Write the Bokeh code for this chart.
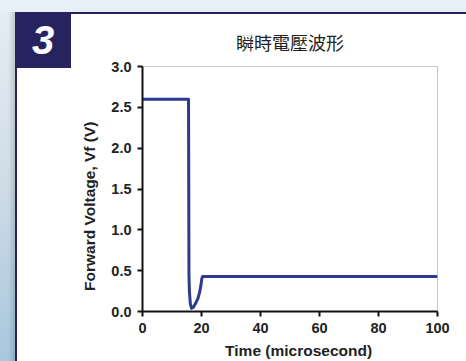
from bokeh.plotting import figure
from bokeh.models import Range1d, FixedTicker, CustomJSTickFormatter, Div
from bokeh.layouts import row, column
from bokeh.embed import file_html
from bokeh.resources import INLINE

# ---- data ----
time_us = [0, 15.6, 15.75, 15.9, 16.2, 16.6, 17.2, 18.0, 18.8, 19.4, 19.8, 20.1, 20.4, 30, 50, 70, 90, 100]
vf_volts = [2.6, 2.6, 0.45, 0.25, 0.10, 0.04, 0.05, 0.10, 0.16, 0.24, 0.32, 0.40, 0.43, 0.43, 0.43, 0.43, 0.43, 0.43]
x_ticks = [0, 20, 40, 60, 80, 100]
y_ticks = [0.0, 0.5, 1.0, 1.5, 2.0, 2.5, 3.0]
title_text = "瞬時電壓波形"
panel_number = "3"
x_label = "Time (microsecond)"
y_label = "Forward Voltage, Vf (V)"

NAVY = "#27235f"
LINE = "#2e3a8f"
SKY = "#e7f0f8"
NB = "\u00a0"

p = figure(width=395, height=347, output_backend="svg", toolbar_location=None,
           x_range=Range1d(0, 100), y_range=Range1d(0, 3.0),
           min_border_left=71, min_border_right=29, min_border_top=52, min_border_bottom=48)
p.grid.visible = False
p.outline_line_color = "#c8c8c8"
p.outline_line_width = 1
p.background_fill_color = "white"
p.border_fill_color = "white"

p.title.text = title_text
p.title.align = "center"
p.title.text_font = "Noto Sans CJK TC"
p.title.text_font_size = "18px"
p.title.text_font_style = "normal"
p.title.text_color = "#222222"
p.title.standoff = 24

for ax in (p.xaxis[0], p.yaxis[0]):
    ax.axis_line_width = 2
    ax.axis_line_color = "#111111"
    ax.major_tick_line_width = 2
    ax.major_tick_line_color = "#111111"
    ax.major_tick_out = 5
    ax.major_tick_in = 0
    ax.minor_tick_line_color = None
    ax.major_label_text_font = "Liberation Sans"
    ax.major_label_text_font_style = "bold"
    ax.major_label_text_font_size = "14.5px"
    ax.major_label_text_color = "#222222"
    ax.axis_label_text_font = "Liberation Sans"
    ax.axis_label_text_font_style = "bold"
    ax.axis_label_text_font_size = "15.5px"
    ax.axis_label_text_color = "#222222"

p.xaxis[0].ticker = FixedTicker(ticks=x_ticks)
p.yaxis[0].ticker = FixedTicker(ticks=y_ticks)
p.yaxis[0].formatter = CustomJSTickFormatter(code="return tick.toFixed(1);")
# the reference labels sit a little off the frame centre; non-breaking padding reproduces that
p.xaxis[0].axis_label = NB * 4 + x_label
p.yaxis[0].axis_label = y_label + NB * 8
p.xaxis[0].axis_label_standoff = 6
p.yaxis[0].axis_label_standoff = 10
p.xaxis[0].major_label_standoff = 6
p.yaxis[0].major_label_standoff = 6

p.line(time_us, vf_volts, line_color=LINE, line_width=3, line_join="round")

# ---- page decoration around the chart ----
left_html = (
    '<div style="position:relative;width:71px;height:361px;background:#ffffff;overflow:hidden;">'
    f'<div style="position:absolute;left:0;top:0;width:71px;height:12px;background:{SKY};"></div>'
    '<div style="position:absolute;left:0;top:12px;width:15px;height:349px;'
    'background:linear-gradient(to right, rgba(0,0,0,0) 55%, rgba(40,40,60,0.18)),'
    'linear-gradient(to bottom, #e3edf4, #d2dee7 45%, #a7c7de);"></div>'
    f'<div style="position:absolute;left:15px;top:12px;width:2px;height:349px;background:{NAVY};"></div>'
    f'<div style="position:absolute;left:15px;top:12px;width:56px;height:56px;background:{NAVY};'
    'color:#ffffff;font-family:\'Liberation Sans\';font-style:italic;font-weight:bold;font-size:40px;'
    f'line-height:56px;text-align:center;">{panel_number}</div>'
    '</div>'
)
top_html = (
    f'<div style="width:395px;height:14px;background:linear-gradient(to bottom, {SKY} 12px, {NAVY} 12px);"></div>'
)
left_div = Div(text=left_html, width=71, height=361, margin=0)
top_div = Div(text=top_html, width=395, height=14, margin=0)

layout = row(left_div, column(top_div, p, spacing=0), spacing=0)

open("out.html", "w").write(file_html(layout, INLINE))
